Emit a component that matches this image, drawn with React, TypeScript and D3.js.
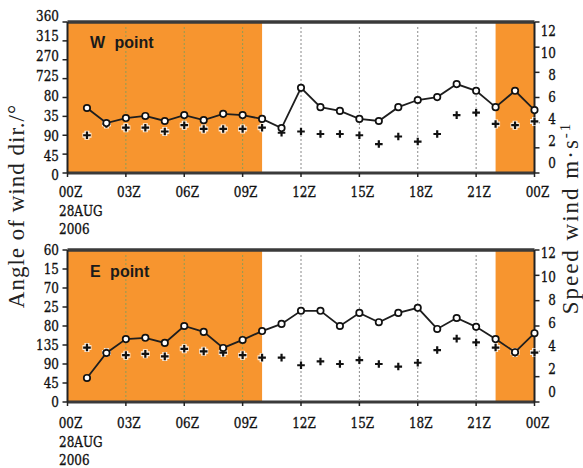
import React, { useRef, useEffect } from "react";
import * as d3 from "d3";

// hours after 00Z 28 AUG 2006
const hours = [1, 2, 3, 4, 5, 6, 7, 8, 9, 10, 11, 12, 13, 14, 15, 16, 17, 18, 19, 20, 21, 22, 23, 24];

// W point
const wDir = [155, 119, 131, 136, 124, 138, 126, 141, 138, 129, 107, 203, 157, 148, 129, 124, 157, 174, 181, 212, 196, 157, 196, 150];
const wSpeed = [3.0, 3.9, 3.6, 3.6, 3.3, 3.8, 3.5, 3.5, 3.5, 3.6, 3.2, 3.3, 3.1, 3.1, 3.0, 2.3, 2.9, 2.5, 3.1, 4.6, 4.8, 3.9, 3.8, 4.1];

// E point
const eDir = [57, 116, 149, 152, 140, 180, 166, 128, 147, 168, 185, 216, 216, 180, 211, 189, 211, 223, 173, 199, 178, 149, 118, 163];
const eSpeed = [4.3, 3.9, 3.7, 3.8, 3.6, 4.2, 4.0, 3.9, 3.7, 3.5, 3.5, 2.9, 3.2, 3.0, 3.3, 3.0, 2.8, 3.1, 4.1, 5.0, 4.7, 4.3, 3.9, 3.9];

// tick labels as they are printed
const angleTicks = [360, 315, 270, 225, 180, 135, 90, 45, 0];
const wAngleLabels = ["360", "315", "270", "725", "80", "35", "90", "45", "0"];
const eAngleLabels = ["60", "15", "70", "25", "80", "135", "90", "45", "0"];
const speedTicks = [12, 10, 8, 6, 4, 2, 0];
const speedLabels = ["12", "10", "8", "6", "4", "2", "0"];
const timeTicks = [0, 3, 6, 9, 12, 15, 18, 21, 24];
const timeLabels = ["00Z", "03Z", "06Z", "09Z", "12Z", "15Z", "18Z", "21Z", "00Z"];

// night time shading (hours)
const shaded = [[0, 10], [22, 24]];

const ORANGE = "#f7952f";
const tickFont = "'DejaVu Serif', serif";

function App() {
  const svgRef = useRef(null);

  useEffect(() => {
    d3.select(svgRef.current).selectAll("*").remove();
    const svg = d3.select(svgRef.current);

    const x = d3.scaleLinear().domain([0, 24]).range([67.5, 534.5]);

    const panels = [
      { name: "W point", top: 22, bottom: 173, dir: wDir, speed: wSpeed, labels: wAngleLabels,
        angleLab: [175, 16], speedLab: [163, 31], nameY: 48, timeY: 192 },
      { name: "E point", top: 250, bottom: 402, dir: eDir, speed: eSpeed, labels: eAngleLabels,
        angleLab: [402, 250], speedLab: [392, 253], nameY: 277, timeY: 423 },
    ];

    const tickText = (sel) =>
      sel.style("font-family", tickFont)
        .style("font-size", "15px")
        .attr("fill", "#111")
        .attr("stroke", "#111")
        .attr("stroke-width", 0.35)
        .attr("dy", "0.36em");

    panels.forEach((p) => {
      const g = svg.append("g");
      const yDir = d3.scaleLinear().domain([0, 360]).range([p.bottom, p.top]);
      const ySpd = d3.scaleLinear().domain([0, 12]).range([p.bottom, p.top]);
      const yDirLab = d3.scaleLinear().domain([0, 360]).range(p.angleLab);
      const ySpdLab = d3.scaleLinear().domain([0, 12]).range(p.speedLab);

      // shading
      g.selectAll(".shade")
        .data(shaded)
        .join("rect")
        .attr("x", (d) => x(d[0]))
        .attr("width", (d) => x(d[1]) - x(d[0]))
        .attr("y", p.top)
        .attr("height", p.bottom - p.top)
        .attr("fill", ORANGE);

      // grid
      g.selectAll(".grid")
        .data(timeTicks.slice(1, -1))
        .join("line")
        .attr("x1", (d) => x(d))
        .attr("x2", (d) => x(d))
        .attr("y1", p.top + 5)
        .attr("y2", p.bottom - 2)
        .attr("stroke", (d) => (d < 10 ? "#8e9c55" : "#8a8a8a"))
        .attr("stroke-width", 1)
        .attr("stroke-dasharray", "2,2");

      // frame
      g.append("line").attr("x1", x(0)).attr("x2", x(24)).attr("y1", p.top).attr("y2", p.top)
        .attr("stroke", "#3a3a3a").attr("stroke-width", 3.5);
      g.append("line").attr("x1", x(0)).attr("x2", x(24)).attr("y1", p.bottom).attr("y2", p.bottom)
        .attr("stroke", "#3a3a3a").attr("stroke-width", 3);
      g.append("line").attr("x1", x(0)).attr("x2", x(0)).attr("y1", p.top).attr("y2", p.bottom)
        .attr("stroke", "#222").attr("stroke-width", 2);
      g.append("line").attr("x1", x(24)).attr("x2", x(24)).attr("y1", p.top).attr("y2", p.bottom)
        .attr("stroke", "#222").attr("stroke-width", 2);

      // ticks
      g.selectAll(".lt").data(angleTicks).join("line")
        .attr("x1", x(0) - 5).attr("x2", x(0))
        .attr("y1", (d) => yDir(d)).attr("y2", (d) => yDir(d))
        .attr("stroke", "#222").attr("stroke-width", 1.5);
      g.selectAll(".rt").data(speedTicks).join("line")
        .attr("x1", x(24)).attr("x2", x(24) + 5)
        .attr("y1", (d) => ySpd(d)).attr("y2", (d) => ySpd(d))
        .attr("stroke", "#222").attr("stroke-width", 1.5);
      g.selectAll(".bt").data(timeTicks).join("line")
        .attr("x1", (d) => x(d)).attr("x2", (d) => x(d))
        .attr("y1", p.bottom).attr("y2", p.bottom + 4)
        .attr("stroke", "#222").attr("stroke-width", 1.5);

      // speed crosses
      const cross = g.selectAll(".cross").data(hours).join("g")
        .attr("transform", (d, i) => `translate(${x(d)},${ySpd(p.speed[i])})`);
      cross.append("path").attr("d", "M-4.5,0H4.5M0,-4.5V4.5")
        .attr("stroke", "#fff").attr("stroke-width", 5).attr("opacity", 0.85);
      cross.append("path").attr("d", "M-3.8,0H3.8M0,-3.8V3.8")
        .attr("stroke", "#111").attr("stroke-width", 2.2);

      // direction line
      const line = d3.line()
        .x((d, i) => x(hours[i]))
        .y((d) => yDir(d));
      g.append("path")
        .attr("d", line(p.dir))
        .attr("fill", "none")
        .attr("stroke", "#1e1e1e")
        .attr("stroke-width", 1.8);
      g.selectAll(".dot").data(p.dir).join("circle")
        .attr("cx", (d, i) => x(hours[i]))
        .attr("cy", (d) => yDir(d))
        .attr("r", 3.2)
        .attr("fill", "#fff")
        .attr("stroke", "#111")
        .attr("stroke-width", 1.7);

      // tick labels
      g.selectAll(".ll").data(angleTicks).join("text")
        .attr("transform", (d) => `translate(59,${yDirLab(d)}) scale(0.8,1)`)
        .attr("text-anchor", "end")
        .call(tickText)
        .text((d, i) => p.labels[i]);
      g.selectAll(".rl").data(speedTicks).join("text")
        .attr("transform", (d) => `translate(556,${ySpdLab(d)}) scale(0.8,1)`)
        .attr("text-anchor", "end")
        .call(tickText)
        .text((d, i) => speedLabels[i]);
      g.selectAll(".tl").data(timeTicks).join("text")
        .attr("transform", (d) => `translate(${x(d) + 3},${p.timeY}) scale(0.8,1)`)
        .attr("text-anchor", "middle")
        .call(tickText)
        .text((d, i) => timeLabels[i]);
      ["28AUG", "2006"].forEach((t, k) => {
        g.append("text")
          .attr("transform", `translate(59,${p.timeY + 19 + k * 18}) scale(0.8,1)`)
          .call(tickText)
          .text(t);
      });

      // panel name
      g.append("text")
        .attr("x", 90)
        .attr("y", p.nameY)
        .style("font-family", "'Liberation Sans', Arial, sans-serif")
        .style("font-size", "16px")
        .style("font-weight", "bold")
        .style("word-spacing", "5px")
        .attr("fill", "#1a1a1a")
        .text(p.name);
    });

    // axis titles
    svg.append("text")
      .attr("transform", "translate(24,206) rotate(-90)")
      .attr("text-anchor", "middle")
      .style("font-family", "'Liberation Serif', serif")
      .style("font-size", "23px")
      .style("letter-spacing", "1px")
      .attr("fill", "#222")
      .text("Angle of wind dir./°");

    const rt = svg.append("text")
      .attr("transform", "translate(578,218) rotate(-90)")
      .attr("text-anchor", "middle")
      .style("font-family", "'Liberation Serif', serif")
      .style("font-size", "23px")
      .style("letter-spacing", "2px")
      .attr("fill", "#222");
    rt.append("tspan").text("Speed wind m·s");
    rt.append("tspan").attr("dy", "-8").style("font-size", "15px").text("-1");
  }, []);

  return (
    <div>
      <svg
        ref={svgRef}
        width={583}
        height={468}
        style={{ position: "absolute", left: 0, top: 0, background: "#fff" }}
      ></svg>
    </div>
  );
}

export default App;
